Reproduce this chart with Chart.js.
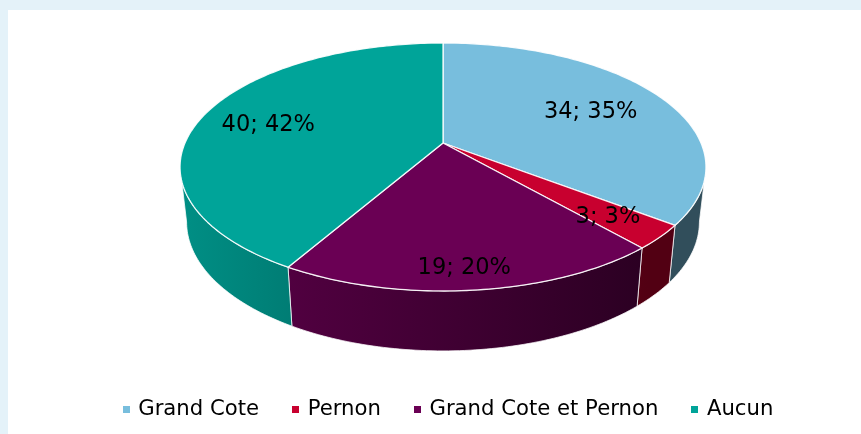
<!DOCTYPE html>
<html>
<head>
<meta charset="utf-8">
<style>
html,body{margin:0;padding:0;width:861px;height:434px;overflow:hidden;background:#E4F2F9}
#sheet{position:absolute;left:8px;top:10px;right:0;bottom:0;background:#fff}
#wrap{position:absolute;left:0;top:0;width:861px;height:434px}
canvas{display:block}
</style>
<script src="https://cdn.jsdelivr.net/npm/chart.js@4/dist/chart.umd.min.js"></script>
</head>
<body>
<div id="sheet"></div>
<div id="wrap"><canvas id="c" width="861" height="434"></canvas></div>
<script>
const categories = ['Grand Cote', 'Pernon', 'Grand Cote et Pernon', 'Aucun'];
const counts = [34, 3, 19, 40];
const colors = ['#78BEDD', '#C8002F', '#6A0054', '#00A499'];
const labelRadii = [0.675, 0.785, 0.855, 0.725];
const labelShiftDeg = [0, 0, 1, -0.3];

// perspective projection of the pie disc
const view = {cx: 443, cy: 143, a: 258, b: 119.35, k: 0.1935,
  baseX: 0.975, baseY: 1.04, baseCy: 197};
const FONT = '"DejaVu Sans", Verdana, sans-serif';

function project(angle, f) {          // angle: Chart.js radians
  const a = angle + Math.PI / 2;
  const x = f * Math.sin(a), y = -f * Math.cos(a);
  const d = 1 - view.k * y;
  return [view.cx + view.a * x / d, view.cy + view.b * y / d];
}
function projectBase(angle) {
  const p = project(angle, 1);
  return [view.cx + (p[0] - view.cx) * view.baseX,
          view.baseCy + (p[1] - view.cy) * view.baseY];
}
function shade(hex, f) {
  const n = parseInt(hex.slice(1), 16);
  return 'rgb(' + [(n >> 16) & 255, (n >> 8) & 255, n & 255].map(c => Math.round(c * f)).join(',') + ')';
}
function swatch(color) {
  const s = document.createElement('canvas');
  s.width = 7; s.height = 7;
  const g = s.getContext('2d');
  g.fillStyle = color; g.fillRect(0, 0, 7, 7);
  return s;
}
const STEP = Math.PI / 180;
const visibleFrom = -Math.PI / 2 + (90 + 11.16) * STEP;
const visibleTo = -Math.PI / 2 + (270 - 11.16) * STEP;

const pie3d = {
  id: 'pie3d',
  beforeDatasetsDraw(chart) {
    const ctx = chart.ctx;
    const arcs = chart.getDatasetMeta(0).data;
    const total = counts.reduce((s, v) => s + v, 0);
    ctx.save();
    ctx.lineJoin = 'round';
    // side wall
    arcs.forEach((arc, i) => {
      const from = Math.max(arc.startAngle, visibleFrom);
      const to = Math.min(arc.endAngle, visibleTo);
      if (to <= from) return;
      const grad = ctx.createLinearGradient(180, 0, 706, 0);
      grad.addColorStop(0, shade(colors[i], 0.87));
      grad.addColorStop(0.89, shade(colors[i], 0.41));
      grad.addColorStop(1, shade(colors[i], 0.41));
      ctx.beginPath();
      for (let t = from; t < to; t += STEP) ctx.lineTo(...project(t, 1));
      ctx.lineTo(...project(to, 1));
      ctx.lineTo(...projectBase(to));
      for (let t = to; t > from; t -= STEP) ctx.lineTo(...projectBase(t));
      ctx.lineTo(...projectBase(from));
      ctx.closePath();
      ctx.fillStyle = grad;
      ctx.fill();
      ctx.strokeStyle = 'rgba(255,255,255,0.75)';
      ctx.lineWidth = 1;
      ctx.stroke();
    });
    // top disc
    arcs.forEach((arc, i) => {
      ctx.beginPath();
      ctx.moveTo(view.cx, view.cy);
      for (let t = arc.startAngle; t < arc.endAngle; t += STEP) ctx.lineTo(...project(t, 1));
      ctx.lineTo(...project(arc.endAngle, 1));
      ctx.closePath();
      ctx.fillStyle = colors[i];
      ctx.fill();
      ctx.strokeStyle = 'rgba(255,255,255,0.9)';
      ctx.lineWidth = 1.3;
      ctx.stroke();
    });
    // data labels
    ctx.fillStyle = '#000';
    ctx.font = '22.5px ' + FONT;
    ctx.textAlign = 'center';
    ctx.textBaseline = 'middle';
    arcs.forEach((arc, i) => {
      const mid = (arc.startAngle + arc.endAngle) / 2 + labelShiftDeg[i] * STEP;
      const p = project(mid, labelRadii[i]);
      ctx.fillText(counts[i] + '; ' + Math.round(counts[i] / total * 100) + '%', p[0], p[1] + 3);
    });
    ctx.restore();
    return false;
  }
};

new Chart(document.getElementById('c'), {
  type: 'pie',
  data: {
    labels: categories,
    datasets: [{data: counts, backgroundColor: colors, borderWidth: 0}]
  },
  options: {
    responsive: false,
    animation: false,
    layout: {padding: {left: 40, right: 3, top: 0, bottom: 4}},
    plugins: {
      tooltip: {enabled: false},
      legend: {
        position: 'bottom',
        labels: {
          color: '#000',
          font: {family: FONT, size: 21.2},
          padding: 35,
          usePointStyle: true,
          pointStyleWidth: 3,
          generateLabels: chart => categories.map((text, i) => ({
            text, index: i, datasetIndex: 0, hidden: false,
            pointStyle: swatch(colors[i]), fillStyle: colors[i], lineWidth: 0, fontColor: '#000'
          }))
        }
      }
    }
  },
  plugins: [pie3d]
});
</script>
</body>
</html>
